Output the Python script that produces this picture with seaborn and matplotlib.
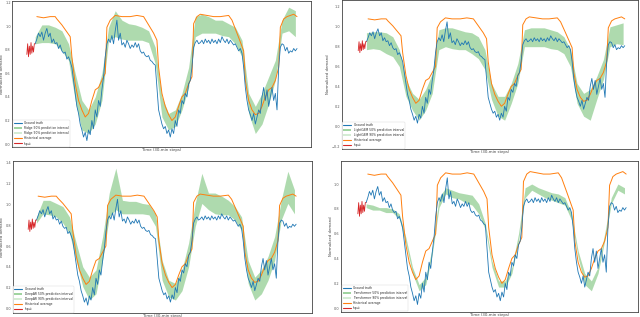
import matplotlib
matplotlib.use("Agg")
import matplotlib.pyplot as plt
from matplotlib.lines import Line2D
from matplotlib.patches import Patch
from matplotlib.ticker import MultipleLocator
import seaborn as sns

sns.set_style("white")
plt.rcParams['font.family'] = ['DejaVu Sans']

# ---------------- data ----------------
truth_t = list(range(158))
truth = [0.85, 0.89, 0.94, 0.91, 0.95, 0.88, 0.94, 0.98, 0.91, 0.94,
         0.86, 0.89, 0.85, 0.86, 0.81, 0.84, 0.79, 0.77, 0.78, 0.72,
         0.74, 0.70, 0.65, 0.54, 0.43, 0.32, 0.26, 0.17, 0.12, 0.06,
         0.10, 0.03, 0.12, 0.08, 0.20, 0.13, 0.29, 0.23, 0.37, 0.32,
         0.46, 0.57, 0.74, 0.85, 0.89, 0.86, 0.92, 0.85, 0.96, 1.05,
         0.88, 0.94, 0.84, 0.86, 0.82, 0.88, 0.85, 0.81, 0.84, 0.82,
         0.86, 0.82, 0.85, 0.79, 0.77, 0.78, 0.75, 0.74, 0.75, 0.71,
         0.70, 0.68, 0.67, 0.48, 0.29, 0.23, 0.17, 0.13, 0.15, 0.09,
         0.12, 0.06, 0.13, 0.09, 0.20, 0.15, 0.29, 0.26, 0.37, 0.34,
         0.43, 0.40, 0.51, 0.54, 0.65, 0.82, 0.86, 0.88, 0.85, 0.86,
         0.88, 0.85, 0.89, 0.86, 0.88, 0.85, 0.89, 0.86, 0.88, 0.85,
         0.89, 0.86, 0.91, 0.88, 0.86, 0.89, 0.85, 0.88, 0.86, 0.84,
         0.85, 0.82, 0.79, 0.81, 0.77, 0.65, 0.48, 0.37, 0.29, 0.25,
         0.20, 0.26, 0.17, 0.23, 0.29, 0.26, 0.40, 0.48, 0.37, 0.46,
         0.32, 0.40, 0.48, 0.37, 0.43, 0.29, 0.65, 0.82, 0.85, 0.84,
         0.79, 0.82, 0.77, 0.79, 0.78, 0.81, 0.79, 0.81]

input_t = [-5, -4.5, -4, -3.5, -3, -2.5, -2, -1.5, -1, -0.5, 0]
input_vals = [0.76, 0.85, 0.74, 0.83, 0.76, 0.86, 0.77, 0.83, 0.78, 0.85, 0.85]

hist_t = [1, 5, 9, 12, 13, 16, 19, 21, 22, 24, 26, 28, 30, 32, 34, 36, 38, 40, 42,
          43, 45, 48, 52, 57, 61, 65, 68, 71, 73, 74, 76, 78, 80, 82, 84, 86, 88,
          90, 92, 94, 95, 97, 99, 103, 107, 111, 116, 118, 121, 125, 126, 128,
          130, 132, 134, 136, 138, 140, 142, 144, 146, 147, 149, 151, 153, 155, 157]
hist_vals = [1.08, 1.07, 1.08, 1.08, 1.06, 1.01, 0.95, 0.91, 0.74, 0.51, 0.37, 0.29,
             0.23, 0.26, 0.37, 0.46, 0.48, 0.54, 0.60, 0.99, 1.05, 1.09, 1.08, 1.08,
             1.09, 1.08, 1.01, 0.94, 0.88, 0.65, 0.43, 0.32, 0.25, 0.20, 0.23, 0.32,
             0.40, 0.43, 0.51, 0.57, 1.02, 1.08, 1.10, 1.09, 1.08, 1.08, 1.09, 1.05,
             0.94, 0.79, 0.54, 0.37, 0.29, 0.25, 0.26, 0.32, 0.40, 0.46, 0.48, 0.54,
             0.65, 0.99, 1.06, 1.08, 1.09, 1.10, 1.08]

band_t = [0, 4, 8, 12, 16, 20, 24, 28, 32, 36, 40, 44, 48, 52, 56, 60, 64, 68, 72, 76,
          80, 84, 88, 92, 96, 100, 104, 108, 112, 116, 120, 124, 128, 132, 136, 140,
          144, 148, 152, 156]

# Panel A (Ridge)
a_hi = [0.91, 1.01, 1.01, 0.99, 0.96, 0.85, 0.60, 0.37, 0.29, 0.40, 0.60, 0.99, 1.13,
        1.05, 1.02, 1.01, 0.99, 0.96, 0.82, 0.40, 0.26, 0.29, 0.43, 0.65, 1.08, 1.10,
        1.08, 1.05, 1.05, 1.02, 0.99, 0.88, 0.43, 0.32, 0.43, 0.57, 0.71, 1.05, 1.16, 1.13]
a_lo = [0.85, 0.86, 0.86, 0.85, 0.79, 0.71, 0.37, 0.12, 0.09, 0.17, 0.37, 0.88, 0.91,
        0.89, 0.88, 0.88, 0.88, 0.86, 0.68, 0.23, 0.12, 0.15, 0.29, 0.48, 0.91, 0.94,
        0.94, 0.94, 0.92, 0.91, 0.85, 0.74, 0.26, 0.09, 0.17, 0.34, 0.54, 0.94, 0.96, 0.91]

# Panel B (LightGBM)
b_hi = [0.94, 0.95, 0.95, 0.94, 0.90, 0.77, 0.47, 0.33, 0.27, 0.37, 0.53, 0.97, 0.99,
        0.99, 0.97, 0.95, 0.94, 0.90, 0.77, 0.43, 0.30, 0.30, 0.43, 0.63, 0.97, 0.99,
        0.99, 0.99, 0.97, 0.95, 0.90, 0.77, 0.43, 0.33, 0.37, 0.50, 0.67, 1.00, 1.02, 1.04]
b_lo = [0.77, 0.78, 0.77, 0.73, 0.70, 0.60, 0.30, 0.16, 0.06, 0.16, 0.33, 0.77, 0.80,
        0.78, 0.77, 0.77, 0.73, 0.68, 0.57, 0.27, 0.10, 0.06, 0.23, 0.43, 0.80, 0.80,
        0.80, 0.80, 0.78, 0.77, 0.73, 0.60, 0.23, 0.10, 0.06, 0.27, 0.47, 0.80, 0.83, 0.82]

# Panel C (DeepAR)
c_hi = [0.88, 1.04, 1.04, 1.01, 0.98, 0.88, 0.63, 0.40, 0.30, 0.37, 0.69, 1.11, 1.35,
        1.04, 1.03, 1.03, 1.01, 1.00, 0.91, 0.46, 0.27, 0.24, 0.37, 0.63, 1.01, 1.30,
        1.11, 1.11, 1.08, 1.04, 0.98, 0.88, 0.46, 0.30, 0.37, 0.50, 0.69, 1.04, 1.32, 1.14]
c_lo = [0.82, 0.91, 0.90, 0.88, 0.82, 0.72, 0.46, 0.21, 0.08, 0.14, 0.46, 0.88, 0.95,
        0.91, 0.91, 0.91, 0.91, 0.90, 0.79, 0.27, 0.11, 0.08, 0.17, 0.40, 0.79, 1.01,
        0.95, 0.91, 0.90, 0.90, 0.85, 0.75, 0.24, 0.08, 0.14, 0.27, 0.46, 0.85, 1.01, 0.91]

# Panel D (Transformer)
d_hi = [0.84, 0.83, 0.81, 0.81, 0.80, 0.76, 0.57, 0.33, 0.19, 0.25, 0.49, 0.89, 0.97,
        0.95, 0.93, 0.92, 0.91, 0.84, 0.68, 0.38, 0.22, 0.22, 0.33, 0.60, 0.97, 1.00,
        0.97, 0.95, 0.93, 0.92, 0.89, 0.76, 0.46, 0.28, 0.22, 0.33, 0.60, 0.89, 1.00, 0.97]
d_lo = [0.81, 0.79, 0.79, 0.77, 0.77, 0.72, 0.52, 0.28, 0.14, 0.19, 0.44, 0.81, 0.92,
        0.89, 0.88, 0.85, 0.83, 0.76, 0.63, 0.33, 0.17, 0.17, 0.28, 0.54, 0.89, 0.95,
        0.92, 0.89, 0.87, 0.85, 0.83, 0.71, 0.41, 0.19, 0.14, 0.28, 0.54, 0.84, 0.95, 0.92]

model_names = ["Ridge", "LightGBM", "DeepAR", "Transformer"]
x_label = "Time (30-min steps)"
y_label = "Normalized demand"

# ---------------- layout ----------------
panels = [
    dict(rect=[0.019, 0.536, 0.467, 0.460], xlim=(-13.8, 165.4), ylim=(-0.025, 1.21),
         lo=a_lo, hi=a_hi, name=model_names[0]),
    dict(rect=[0.534, 0.530, 0.4625, 0.470], xlim=(-15.0, 164.9), ylim=(-0.23, 1.27),
         lo=b_lo, hi=b_hi, name=model_names[1]),
    dict(rect=[0.020, 0.0126, 0.467, 0.480], xlim=(-14.3, 166.4), ylim=(-0.045, 1.42),
         lo=c_lo, hi=c_hi, name=model_names[2]),
    dict(rect=[0.533, 0.016, 0.464, 0.476], xlim=(-15.1, 164.2), ylim=(-0.03, 1.185),
         lo=d_lo, hi=d_hi, name=model_names[3]),
]

c_blue = "#1f77b4"
c_orange = "#ff7f0e"
c_red = "#d62728"
c_green = "#2ca02c"

fig = plt.figure(figsize=(6.4, 3.17), dpi=100)

for p in panels:
    ax = fig.add_axes(p["rect"])
    ax.fill_between(band_t, p["lo"], p["hi"], color=c_green, alpha=0.38, lw=0)
    sns.lineplot(x=hist_t, y=hist_vals, ax=ax, color=c_orange, lw=0.7)
    sns.lineplot(x=truth_t, y=truth, ax=ax, color=c_blue, lw=0.6)
    sns.lineplot(x=input_t, y=input_vals, ax=ax, color=c_red, lw=0.6)
    ax.set_xlim(*p["xlim"])
    ax.set_ylim(*p["ylim"])
    ax.yaxis.set_major_locator(MultipleLocator(0.2))
    ax.set_xticks([])
    ax.tick_params(axis="y", labelsize=2.5, length=0, pad=1)
    for lab in ax.get_yticklabels():
        lab.set_color("#555555")
    ax.set_xlabel(x_label, fontsize=2.8, labelpad=1, color="#444444")
    ax.set_ylabel(y_label, fontsize=2.8, labelpad=1, color="#444444")
    for s in ax.spines.values():
        s.set_linewidth(0.6)
        s.set_color("#444444")
    handles = [
        Line2D([], [], color=c_blue, lw=0.8),
        Patch(facecolor=c_green, alpha=0.45, lw=0),
        Patch(facecolor=c_green, alpha=0.2, lw=0),
        Line2D([], [], color=c_orange, lw=0.8),
        Line2D([], [], color=c_red, lw=0.8),
    ]
    labels = [
        "Ground truth",
        f"{p['name']} 50% prediction interval",
        f"{p['name']} 90% prediction interval",
        "Historical average",
        "Input",
    ]
    leg = ax.legend(handles, labels, loc="lower left", fontsize=2.2,
                    frameon=True, borderaxespad=0.15, handlelength=2.6,
                    handleheight=0.7, labelspacing=0.35, borderpad=0.35)
    leg.get_frame().set_linewidth(0.3)

fig.savefig("out.png", dpi=100)
